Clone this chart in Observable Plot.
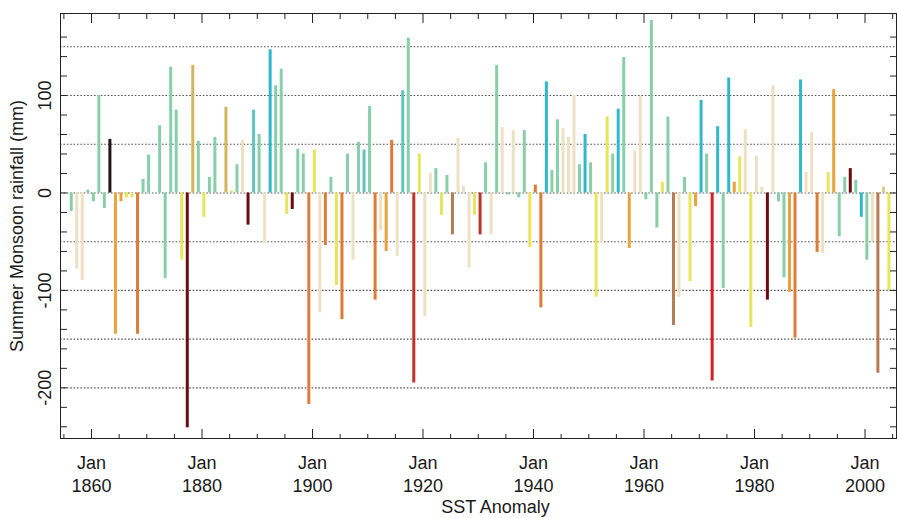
<!DOCTYPE html>
<html>
<head>
<meta charset="utf-8">
<script src="https://cdn.jsdelivr.net/npm/d3@7"></script>
<script src="https://cdn.jsdelivr.net/npm/@observablehq/plot@0.6"></script>
<style>
  html, body { margin: 0; padding: 0; background: #fff; }
  #chart svg { display: block; }
</style>
</head>
<body>
<div id="chart"></div>
<script>
// ---- data (summer monsoon rainfall anomaly, mm) ----
const years = [
  1856, 1857, 1858, 1859, 1860,
  1861, 1862, 1863, 1864, 1865, 1866, 1867, 1868, 1869, 1870,
  1872, 1873, 1874, 1875, 1876, 1877, 1878, 1879, 1880,
  1881, 1882, 1884, 1885, 1886, 1887, 1888, 1889, 1890,
  1891, 1892, 1893, 1894, 1895, 1896, 1897, 1898, 1899, 1900,
  1901, 1902, 1903, 1904, 1905, 1906, 1907, 1908, 1909, 1910,
  1911, 1912, 1913, 1914, 1915, 1916, 1917, 1918, 1919, 1920,
  1921, 1922, 1923, 1924, 1925, 1926, 1927, 1928, 1929, 1930,
  1931, 1932, 1933, 1934, 1935, 1936, 1937, 1938, 1939, 1940,
  1941, 1942, 1943, 1944, 1945, 1946, 1947, 1948, 1949, 1950,
  1951, 1952, 1953, 1954, 1955, 1956, 1957, 1958, 1959, 1960,
  1961, 1962, 1963, 1964, 1965, 1966, 1967, 1968, 1969, 1970,
  1971, 1972, 1973, 1974, 1975, 1976, 1977, 1978, 1979, 1980,
  1981, 1982, 1983, 1984, 1985, 1986, 1987, 1988, 1989, 1990,
  1991, 1992, 1993, 1994, 1995, 1996, 1997, 1998, 1999, 2000,
  2001, 2002, 2003, 2004
];
const rainfall = [
  -19, -78, -90, 3, -9,
  100, -16, 55, -145, -9, -5, -5, -145, 14, 39,
  69, -88, 129, 85, -69, -241, 131, 53, -25,
  16, 57, 88, 2, 29, 54, -33, 85, 60,
  -52, 147, 110, 127, -22, -17, 45, 40, -217, 44,
  -123, -54, 16, -95, -130, 40, -69, 52, 44, 89,
  -110, -39, -60, 54, -65, 105, 159, -195, 40, -127,
  20, 25, -23, 18, -43, 56, 7, -77, -23, -43,
  31, -43, 131, 67, -2, 64, -5, 64, -56, 8,
  -118, 114, 23, 75, 66, 57, 100, 29, 60, 31,
  -107, -52, 78, 40, 86, 139, -57, 43, 99, -7,
  177, -36, 11, 78, -136, -107, 16, -91, -14, 95,
  40, -193, 68, -98, 118, 11, 37, 65, -138, 38,
  6, -110, 110, -9, -87, -102, -149, 116, 21, 62,
  -61, -62, 21, 106, -45, 16, 25, 13, -25, -69,
  -50, -185, 6, -100
];
// SST anomaly class of each year (colour key)
const sstClass = [
  "G","B","B","G","G",
  "G","G","K","O","O","Y","Y","D","G","G",
  "G","G","G","G","Y","M","A","G","Y",
  "G","G","A","Y","G","B","M","T","G",
  "B","C","G","G","Y","M","G","G","D","Y",
  "B","D","G","Y","D","G","B","G","T","G",
  "D","B","O","D","B","T","G","R","Y","B",
  "B","G","Y","G","N","B","B","B","Y","R",
  "G","B","G","B","G","B","G","G","Y","D",
  "D","C","G","G","B","B","B","G","C","G",
  "Y","B","Y","G","C","G","O","B","B","G",
  "G","G","Y","G","N","B","G","Y","O","C",
  "G","X","C","G","C","O","Y","B","Y","B",
  "B","M","B","G","G","O","D","C","B","B",
  "D","B","Y","O","G","G","M","G","C","G",
  "B","N","H","Y"
];
const classNames   = ["C","T","G","B","H","Y","A","O","D","N","R","X","M","K"];
const classColours = ["#2fb7cc","#5ec6bd","#87cfa9","#eee0c3","#dccf80","#e6e55c","#d4b55c",
                      "#e9a23d","#e07b36","#b87a4f","#c53129","#d5202a","#6c0a10","#231416"];

const xLabelYears = [1860, 1880, 1900, 1920, 1940, 1960, 1980, 2000];
const xMinorYears = [1855, 1865, 1870, 1875, 1885, 1890, 1895, 1905, 1910, 1915, 1925, 1930, 1935,
                     1945, 1950, 1955, 1965, 1970, 1975, 1985, 1990, 1995, 2005];
const yTickValues = [-240, -220, -200, -180, -160, -140, -120, -100, -80, -60, -40, -20,
                     0, 20, 40, 60, 80, 100, 120, 140, 160];
const yLabelValues = [100, 0, -100, -200];
const yTickLabels  = ["100", "0", "-100", "-200"];
const gridLevels   = [-200, -150, -100, -50, 0, 50, 100, 150];

const bars = years.map((year, i) => ({year, rain: rainfall[i], sst: sstClass[i]}));

// ---- layout ----
const W = 897, H = 518, mL = 60, mR = 1, mT = 13, mB = 80;
const frameW = W - mL - mR, frameH = H - mT - mB;
const jan = y => new Date(Date.UTC(y, 0, 1));
const season = y => new Date(Date.UTC(y, 4, 1));

const chart = Plot.plot({
  width: W, height: H,
  marginLeft: mL, marginRight: mR, marginTop: mT, marginBottom: mB,
  style: {fontFamily: "'Liberation Sans', Arial, Helvetica, sans-serif", fontSize: "18px",
          background: "#fff", color: "#1a1a1a"},
  x: {type: "utc", domain: [new Date(Date.UTC(1854, 4, 22)), new Date(Date.UTC(2005, 8, 12))], axis: null},
  y: {domain: [-252, 184.2], axis: null},
  color: {domain: classNames, range: classColours},
  marks: [
    Plot.ruleY(gridLevels, {stroke: "#555", strokeWidth: 1.1, strokeDasharray: "1.6,1.8"}),
    Plot.ruleX(bars, {x: d => season(d.year), y1: 0, y2: "rain", stroke: "sst", strokeWidth: 3}),
    Plot.tickX(xLabelYears, {x: jan, insetTop: frameH - 9, stroke: "#222"}),
    Plot.tickX(xLabelYears, {x: jan, insetBottom: frameH - 10, stroke: "#222"}),
    Plot.tickX(xMinorYears, {x: jan, insetTop: frameH - 4, stroke: "#222"}),
    Plot.tickX(xMinorYears, {x: jan, insetBottom: frameH - 6, stroke: "#222"}),
    Plot.tickY(yTickValues, {insetRight: frameW - 7, stroke: "#222"}),
    Plot.tickY(yTickValues, {insetLeft: frameW - 6, stroke: "#222"}),
    Plot.frame({stroke: "#222"}),
    Plot.text(xLabelYears, {x: jan, frameAnchor: "bottom", lineAnchor: "top", dy: 14,
                            text: d => `Jan\n${d}`, lineHeight: 1.28, fill: "#1a1a1a"}),
    Plot.text(yLabelValues, {y: d => d, frameAnchor: "left", textAnchor: "middle", dx: -15, rotate: -90,
                             text: (d, i) => yTickLabels[i], fill: "#1a1a1a"}),
    Plot.text(["Summer Monsoon rainfall (mm)"], {frameAnchor: "left", textAnchor: "middle", dx: -43,
                                                 rotate: -90, fill: "#1a1a1a"}),
    Plot.text(["SST Anomaly"], {frameAnchor: "bottom", lineAnchor: "bottom", dy: 74, dx: 17, fill: "#1a1a1a"})
  ]
});
document.getElementById("chart").appendChild(chart);
</script>
</body>
</html>
